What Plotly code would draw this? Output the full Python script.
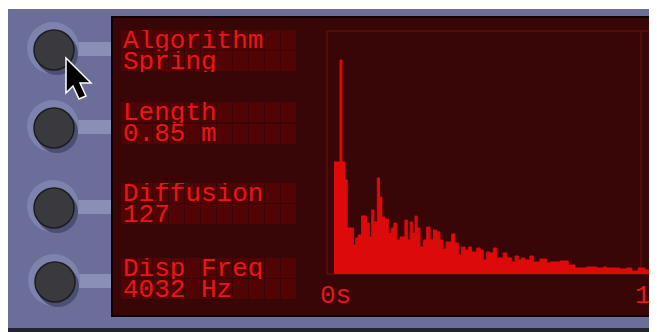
import plotly.graph_objects as go

# page is drawn with an 8px body margin; figure fills the rest of the window
OFF = 8
W, H = 657 - OFF, 332 - OFF

# ---------------- data ----------------
# bin edges (s) of the impulse-response display
bin_edges = [0.000, 0.0195, 0.026, 0.036, 0.043, 0.063, 0.071, 0.079, 0.090, 0.106,
             0.115, 0.123, 0.130, 0.141, 0.148, 0.156, 0.166, 0.177, 0.188, 0.195,
             0.204, 0.215, 0.231, 0.239, 0.248, 0.255, 0.264, 0.271, 0.280, 0.291,
             0.302, 0.313, 0.324, 0.334, 0.345, 0.354, 0.365, 0.383, 0.394, 0.405,
             0.416, 0.427, 0.438, 0.448, 0.465, 0.476, 0.486, 0.497, 0.508, 0.519,
             0.530, 0.551, 0.563, 0.579, 0.590, 0.600, 0.611, 0.622, 0.638, 0.649,
             0.671, 0.693, 0.704, 0.736, 0.763, 0.785, 0.823, 0.834, 0.856, 0.877,
             0.888, 0.932, 0.953, 0.970, 0.991, 1.013, 1.052]
levels = [112, 214, 112, 94, 46, 29, 36, 39, 58, 51,
          37, 64, 52, 96, 77, 57, 55, 41, 46, 51,
          34, 37, 54, 34, 52, 41, 58, 46, 27, 34,
          47, 34, 44, 42, 34, 25, 32, 40, 31, 19,
          27, 24, 27, 22, 26, 24, 14, 22, 21, 26,
          16, 21, 16, 12, 18, 14, 16, 14, 18, 12,
          15, 11, 12, 13, 9, 6, 7, 7, 6, 7,
          6, 5, 6, 3, 6, 4]

param_names = ["Algorithm", "Length", "Diffusion", "Disp Freq"]
param_values = ["Spring", "0.85 m", "127", "4032 Hz"]

tick_vals = [0, 1]
tick_text = ["0s", "1s"]

# ---------------- styling ----------------
FRAME = "#6a6e98"
FRAME_LIGHT = "#8a8fb8"
PANEL = "#380606"
CELL = "#520303"
LCD_RED = "#e8161a"
BAR_RED = "#dc0a0a"
GRID_RED = "#620c0c"
FONT = "Liberation Mono"


def X(px):
    return (px - OFF) / W


def Y(py):
    return 1 - (py - OFF) / H


shapes = []


def rect(x0, y0, x1, y1, fill, line=None, lw=0, layer="below"):
    shapes.append(dict(type="rect", xref="paper", yref="paper",
                       x0=X(x0), x1=X(x1), y0=Y(y1), y1=Y(y0),
                       fillcolor=fill, line=dict(color=line or fill, width=lw),
                       layer=layer))


def circle(cx, cy, r, fill, line=None, lw=0, layer="below"):
    shapes.append(dict(type="circle", xref="paper", yref="paper",
                       x0=X(cx - r), x1=X(cx + r), y0=Y(cy + r), y1=Y(cy - r),
                       fillcolor=fill, line=dict(color=line or fill, width=lw),
                       layer=layer))


# device frame
rect(0, 9, 660, 328, FRAME)
rect(0, 328, 660, 340, "#24252c")
# knobs
knob_centers = [(54, 50), (54, 128), (54, 208), (55, 282)]
for cx, cy in knob_centers:
    rect(cx, cy - 8, 112, cy + 6, FRAME_LIGHT)
    circle(cx - 1, cy - 2, 26, "#7e83ad")
    circle(cx + 3, cy + 4, 21, "#4b4f72")
    circle(cx, cy, 20, "#3a3a3e", line="#1c1c20", lw=1.5)
# LCD panel
rect(112, 17, 662, 316, PANEL, line="#140000", lw=2)
# character cells
row_centers = [(40, 61), (112, 134), (193, 214), (268, 289)]
for pair in row_centers:
    for c in pair:
        for k in range(11):
            x0 = 121 + k * 16
            rect(x0, c - 10, x0 + 15, c + 10, CELL)
# graph frame
shapes.append(dict(type="line", xref="paper", yref="paper", x0=X(327), x1=X(660),
                   y0=Y(31), y1=Y(31), line=dict(color=GRID_RED, width=1.5), layer="below"))
shapes.append(dict(type="line", xref="paper", yref="paper", x0=X(327), x1=X(327),
                   y0=Y(31), y1=Y(274), line=dict(color=GRID_RED, width=1.5), layer="below"))
shapes.append(dict(type="line", xref="x", yref="paper", x0=tick_vals[-1], x1=tick_vals[-1],
                   y0=Y(31), y1=Y(274), line=dict(color=GRID_RED, width=1.5), layer="below"))
shapes.append(dict(type="line", xref="paper", yref="paper", x0=X(327), x1=X(660),
                   y0=Y(274), y1=Y(274), line=dict(color=GRID_RED, width=1.5), layer="below"))
# baseline
shapes.append(dict(type="line", xref="x", yref="y", x0=bin_edges[0], x1=bin_edges[-1],
                   y0=1, y1=1, line=dict(color=BAR_RED, width=3), layer="above"))

# mouse cursor
pts = [(66, 58), (66, 93), (73, 86), (79, 99), (86, 96), (80, 83), (91, 83)]
path = "M " + " L ".join(f"{X(a):.5f},{Y(b):.5f}" for a, b in pts) + " Z"
shapes.append(dict(type="path", xref="paper", yref="paper", path=path,
                   fillcolor="#000000", line=dict(color="#ffffff", width=1.5), layer="above"))

# ---------------- annotations ----------------
annotations = []
for (c1, c2), name, val in zip(row_centers, param_names, param_values):
    for txt, c in ((name, c1), (val, c2)):
        annotations.append(dict(text=txt, xref="paper", yref="paper", x=X(122), y=Y(c),
                                xanchor="left", yanchor="middle", showarrow=False,
                                height=21, valign="middle", borderpad=0,
                                font=dict(family=FONT, size=26, color=LCD_RED)))
for tv, tt, sh in zip(tick_vals, tick_text, [-15, -7]):
    annotations.append(dict(text=tt, xref="x", yref="paper", x=tv, y=Y(295),
                            xanchor="left", yanchor="middle", xshift=sh, showarrow=False,
                            height=21, valign="middle", borderpad=0,
                            font=dict(family=FONT, size=26, color=LCD_RED)))

# ---------------- figure ----------------
fig = go.Figure()
fig.add_trace(go.Scatter(
    x=bin_edges, y=levels + [levels[-1]],
    mode="lines", line=dict(shape="hv", color=BAR_RED, width=1),
    fill="tozeroy", fillcolor=BAR_RED, hoverinfo="skip", showlegend=False))

x_left = bin_edges[0] - (334 - 327) / 307
x_right = bin_edges[0] + (657 - 334) / 307
fig.update_layout(
    width=W, height=H, margin=dict(l=0, r=0, t=0, b=0),
    paper_bgcolor="#ffffff", plot_bgcolor="rgba(0,0,0,0)",
    xaxis=dict(domain=[X(327), 1], range=[x_left, x_right], visible=False, fixedrange=True),
    yaxis=dict(domain=[Y(274), Y(31)], range=[0, 243], visible=False, fixedrange=True),
    shapes=shapes, annotations=annotations, showlegend=False,
)
fig.write_html("out.html")
